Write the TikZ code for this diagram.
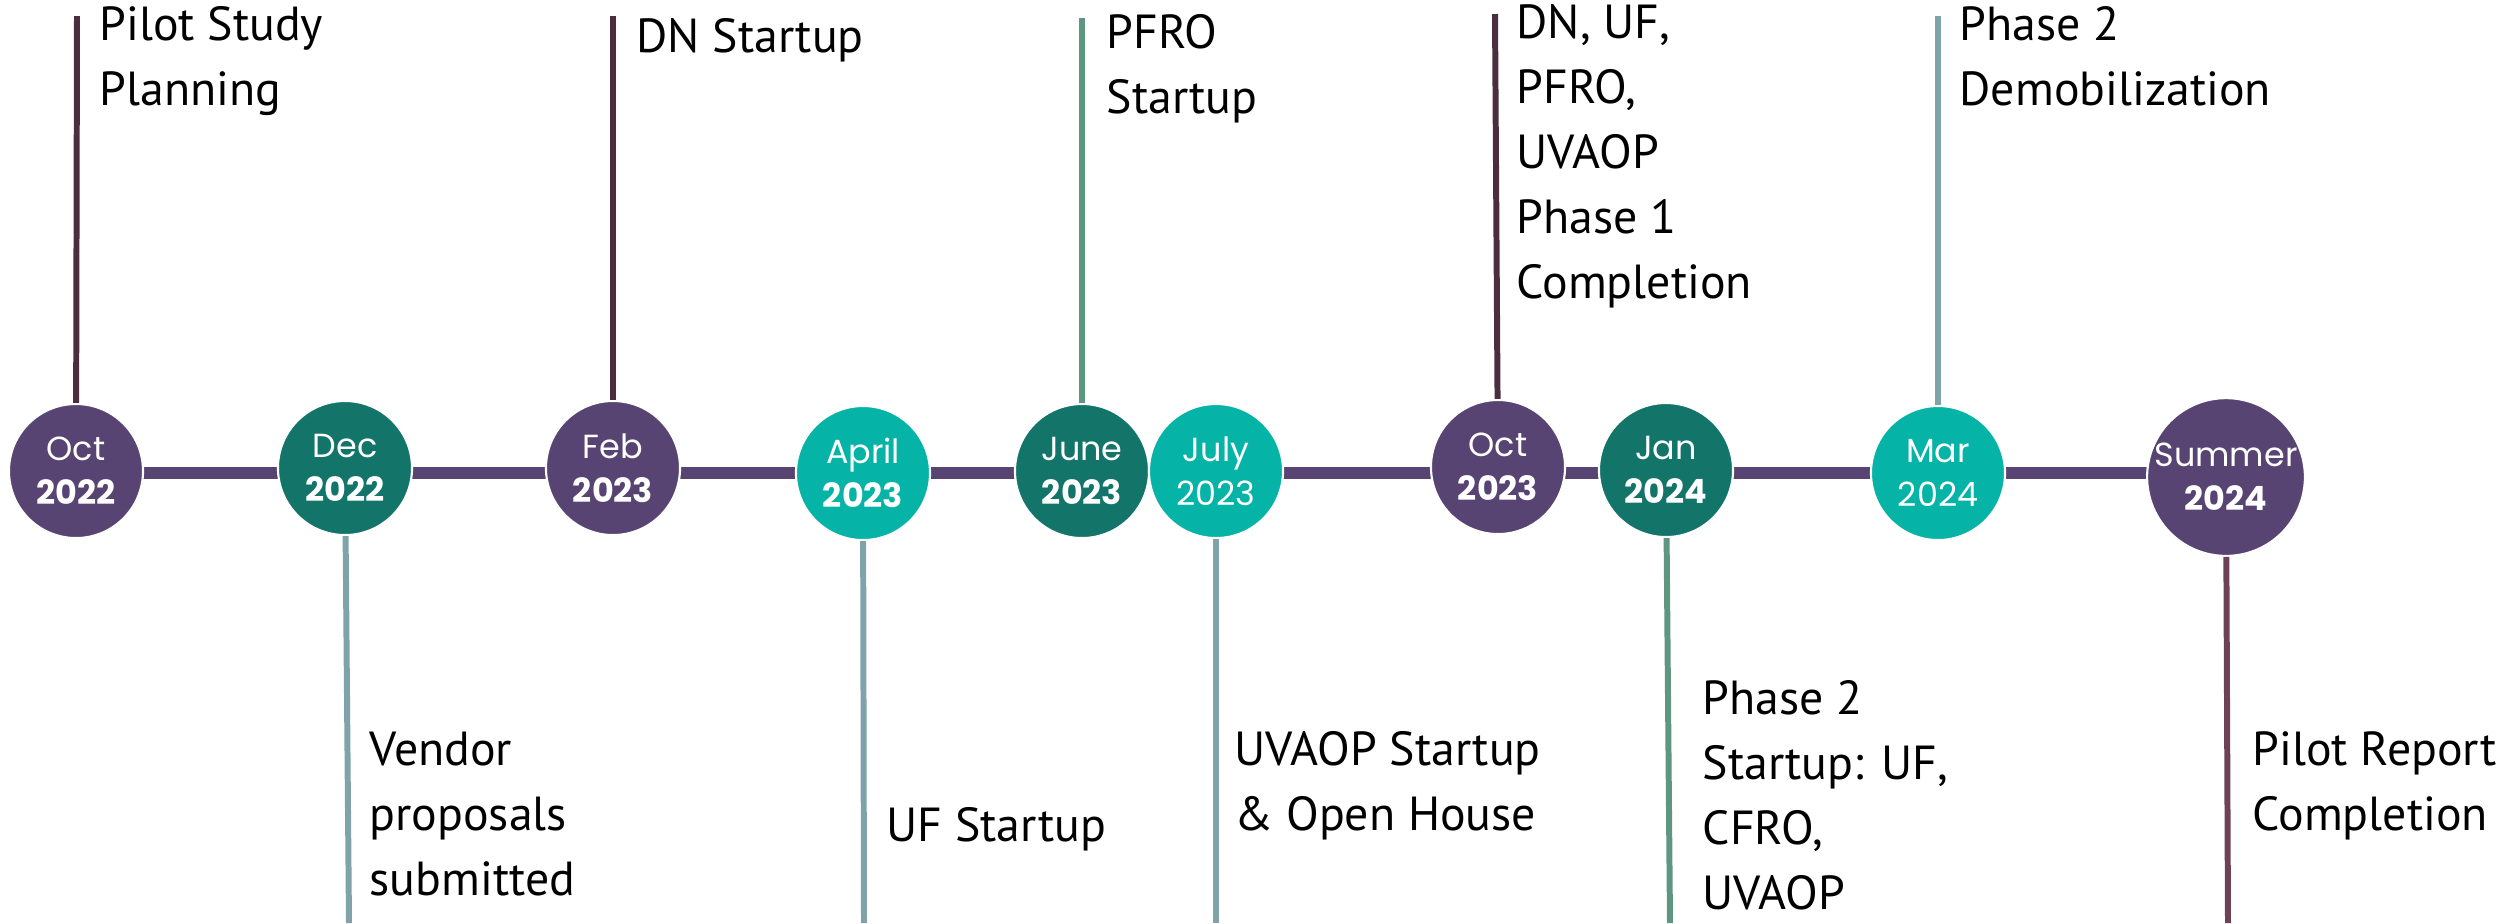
\documentclass[tikz,border=0pt]{standalone}
\usepackage{fontspec}
\setmainfont{PT Sans}
\newfontfamily\datefont{Poppins}
\usepackage{tikz}
\definecolor{tlpurple}{HTML}{574473}
\definecolor{tldark}{HTML}{137569}
\definecolor{tlbright}{HTML}{05B3A7}
\definecolor{stemmaroon}{HTML}{4A2E3E}
\definecolor{stemplum}{HTML}{6D4257}
\definecolor{stemgrey}{HTML}{7FA3A8}
\definecolor{stemgreen}{HTML}{5E9682}
\tikzset{datecirc/.style={circle,draw=white,line width=0.6pt,fill=#1,
            minimum size=1.34cm,inner sep=0pt,text=white,align=center,
            font=\datefont\fontsize{9.5}{12.5}\selectfont},
        stemline/.style={#1,line width=1.7pt},
        axisline/.style={tlpurple,line width=3.4pt},
        lbl/.style={anchor=north west,align=left,inner sep=0pt,
            font=\fontsize{13.6}{18.5}\selectfont,execute at begin node={\strut}}
}

\begin{document}
\begin{tikzpicture}[x=0.01cm,y=-0.01cm]
           \useasboundingbox (0,0) rectangle (2514,923);
           \coordinate (axisL) at (77,473);
           \coordinate (axisR) at (2226,473);
           \draw[axisline] (axisL) -- (axisR);
           % stems first, circles cover their ends
           \coordinate (oct22end) at (77,16);
           \coordinate (feb23end) at (613,16);
           \coordinate (jun23end) at (1082,18);
           \coordinate (oct23end) at (1495,14);
           \coordinate (mar24end) at (1938,16);
           \coordinate (dec22end) at (349,923);
           \coordinate (apr23end) at (864,923);
           \coordinate (jul23end) at (1216,923);
           \coordinate (jan24end) at (1670,923);
           \coordinate (sum24end) at (2228,923);
           \node[datecirc=tlpurple] (oct22) at (76,471) {Oct\\\textbf{2022}};
           \node[datecirc=tldark] (dec22) at (345,468) {Dec\\\textbf{2022}};
           \node[datecirc=tlpurple] (feb23) at (613,468) {Feb\\\textbf{2023}};
           \node[datecirc=tlbright] (apr23) at (863,473) {April\\\textbf{2023}};
           \node[datecirc=tldark] (jun23) at (1082,471) {June\\\textbf{2023}};
           \node[datecirc=tlbright] (jul23) at (1216,471) {July\\2023};
           \node[datecirc=tlpurple] (oct23) at (1498,467) {Oct\\\textbf{2023}};
           \node[datecirc=tldark] (jan24) at (1666,470) {Jan\\\textbf{2024}};
           \node[datecirc=tlbright] (mar24) at (1938,473) {Mar\\2024};
           \node[datecirc=tlpurple] (sum24) at (2226,477) {Summer\\\textbf{2024}};
           \draw[stemline=stemmaroon] (oct22) -- (oct22end);
           \draw[stemline=stemmaroon] (feb23) -- (feb23end);
           \draw[stemline=stemgreen] (jun23) -- (jun23end);
           \draw[stemline=stemmaroon] (oct23) -- (oct23end);
           \draw[stemline=stemgrey] (mar24) -- (mar24end);
           \draw[stemline=stemgrey] (dec22) -- (dec22end);
           \draw[stemline=stemgrey] (apr23) -- (apr23end);
           \draw[stemline=stemgrey] (jul23) -- (jul23end);
           \draw[stemline=stemgreen] (jan24) -- (jan24end);
           \draw[stemline=stemplum] (sum24) -- (sum24end);
           % labels above the line
           \node[lbl] (planning) at (99,6) {Pilot Study\\Planning};
           \node[lbl] (dnstart) at (636,6) {DN Startup};
           \node[lbl] (pfrostart) at (1106,14) {PFRO\\Startup};
           \node[lbl] (phaseone) at (1516,4) {DN, UF,\\PFRO,\\UVAOP\\Phase 1\\Completion};
           \node[lbl] (demob) at (1959,6) {Phase 2\\Demobilization};
           % labels below the line
           \node[lbl] (vendor) at (369,731) {Vendor\\proposals\\submitted};
           \node[lbl] (ufstart) at (886,795) {UF Startup};
           \node[lbl] (uvaopstart) at (1234,731) {UVAOP Startup\\\& Open House};
           \node[lbl] (phasetwo) at (1702,680) {Phase 2\\Startup: UF,\\CFRO,\\UVAOP};
           \node[lbl] (report) at (2252,731) {Pilot Report\\Completion};
         \end{tikzpicture}
\end{document}
